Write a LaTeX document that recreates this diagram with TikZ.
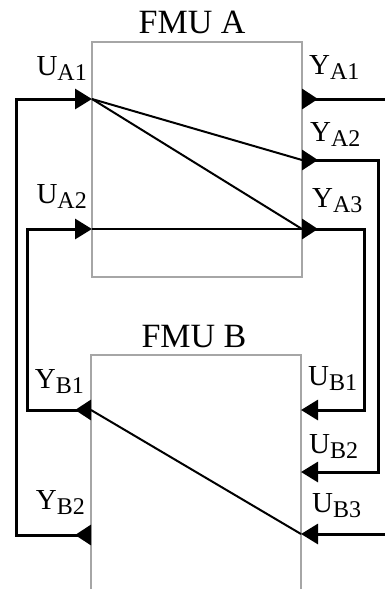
\documentclass[tikz,border=0pt]{standalone}
\usepackage{fontspec}
\setmainfont{Liberation Serif}
\usetikzlibrary{arrows.meta}

\newcommand{\portlbl}[2]{#1\raisebox{-5pt}{\fontsize{24}{26}\selectfont #2}}

\tikzset{
  fmubox/.style={draw=black!35, line width=1.2pt},
  title/.style={font=\fontsize{34}{40}\selectfont, inner sep=0pt, anchor=base},
  lbl/.style={font=\fontsize{29}{31}\selectfont, inner sep=0pt},
  outtip/.style={line width=3pt, {Triangle[reversed,length=16pt,width=20pt]}-},
  intip/.style={line width=3pt, -{Triangle[length=17pt,width=20pt]}},
  link/.style={line width=3pt,
    {Triangle[reversed,length=16pt,width=20pt]}-{Triangle[length=17pt,width=20pt]}},
  flow/.style={line width=2pt}
}

\begin{document}
\begin{tikzpicture}[x=1pt,y=-1pt]
    \useasboundingbox (0,0) rectangle (385,589);
    % ports of FMU A
    \coordinate (ua1) at (92,99);   \coordinate (ya1) at (302,99);
    \coordinate (ua2) at (92,229);  \coordinate (ya2) at (302,160);
    \coordinate (ya3) at (302,229);
    % ports of FMU B
    \coordinate (yb1) at (91,410);  \coordinate (ub1) at (301,410);
    \coordinate (yb2) at (91,535);  \coordinate (ub2) at (301,472);
    \coordinate (ub3) at (301,534);
    % free ends at the border
    \coordinate (ea1) at (385,99);  \coordinate (eb3) at (385,534);

    \draw[fmubox] (92,42) rectangle (302,277);
    \draw[fmubox] (91,589) -- (91,355) -- (301,355) -- (301,589);
    \node[title] (fmua) at (192,33) {FMU A};
    \node[title] (fmub) at (194,347) {FMU B};

    % inside the units
    \draw[flow] (ua1) -- (ya2);
    \draw[flow] (ua1) -- (ya3);
    \draw[flow] (ua2) -- (ya3);
    \draw[flow] (ub3) -- (yb1);

    % connections
    \draw[outtip] (ya1) -- (ea1);
    \draw[link] (ya2) -- ++(76,0) |- (ub2);
    \draw[link] (ya3) -- ++(62,0) |- (ub1);
    \draw[link] (yb1) -- ++(-64,0) |- (ua2);
    \draw[link] (yb2) -- ++(-75,0) |- (ua1);
    \draw[intip] (eb3) -- (ub3);

    % port labels
    \node[lbl, anchor=base east] (lua1) at (87,75) {\portlbl{U}{A1}};
    \node[lbl, anchor=base east] (lua2) at (87,203) {\portlbl{U}{A2}};
    \node[lbl, anchor=base east] (lyb1) at (84,388) {\portlbl{Y}{B1}};
    \node[lbl, anchor=base east] (lyb2) at (85,509) {\portlbl{Y}{B2}};
    \node[lbl, anchor=base west] (lya1) at (309,74) {\portlbl{Y}{A1}};
    \node[lbl, anchor=base west] (lya2) at (310,141) {\portlbl{Y}{A2}};
    \node[lbl, anchor=base west] (lya3) at (312,207) {\portlbl{Y}{A3}};
    \node[lbl, anchor=base west] (lub1) at (308,385) {\portlbl{U}{B1}};
    \node[lbl, anchor=base west] (lub2) at (309,453) {\portlbl{U}{B2}};
    \node[lbl, anchor=base west] (lub3) at (312,512) {\portlbl{U}{B3}};
  \end{tikzpicture}
\end{document}
